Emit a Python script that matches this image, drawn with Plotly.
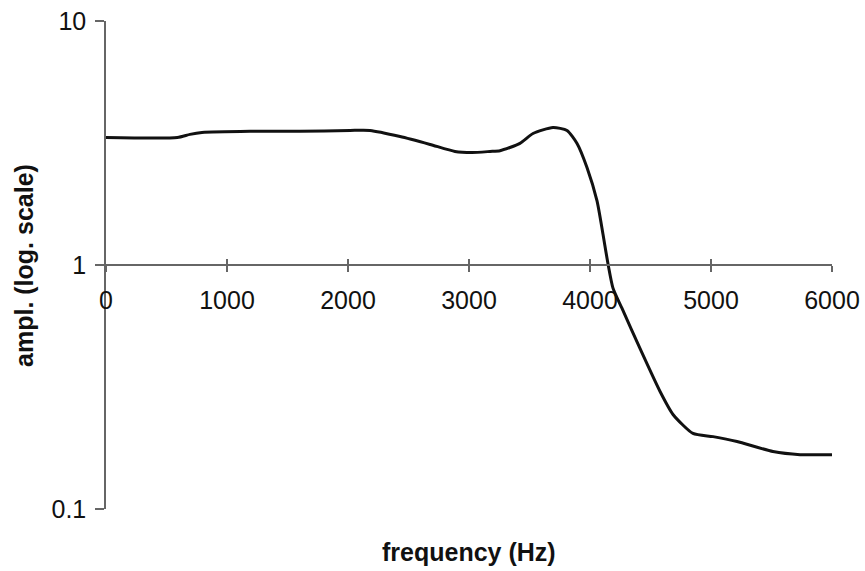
import plotly.graph_objects as go

freq = [0, 590, 694, 793, 1190, 1603, 2017, 2182, 2430, 2678, 2884, 3025, 3174, 3256,
        3421, 3529, 3694, 3810, 3893, 3975, 4058, 4107, 4149, 4190, 4264, 4413, 4579,
        4686, 4851, 5017, 5215, 5512, 5736, 6000]
ampl = [3.33, 3.33, 3.43, 3.49, 3.53, 3.53, 3.56, 3.56, 3.36, 3.12, 2.92, 2.89, 2.92, 2.94,
        3.15, 3.46, 3.66, 3.56, 3.15, 2.51, 1.83, 1.34, 1.01, 0.804, 0.665, 0.455, 0.303,
        0.244, 0.204, 0.198, 0.189, 0.172, 0.167, 0.167]

x_ticks = [0, 1000, 2000, 3000, 4000, 5000, 6000]
y_ticks = [0.1, 1, 10]
y_ticktext = ["0.1", "1", "10"]

axis_col = "#666666"
txt_col = "#111111"
font_tick = dict(family="Liberation Sans, Arial", size=25, color=txt_col)

fig = go.Figure()
fig.add_trace(go.Scatter(x=freq, y=ampl, mode="lines",
                         line=dict(color="#111111", width=3, shape="spline", smoothing=0.6),
                         showlegend=False, hoverinfo="skip"))
# invisible trace on overlay axes so they render
fig.add_trace(go.Scatter(x=[0], y=[1], xaxis="x2", yaxis="y2", mode="markers",
                         marker=dict(opacity=0), showlegend=False, hoverinfo="skip"))

fig.update_layout(
    width=865, height=571,
    margin=dict(l=106, r=33, t=21, b=62, autoexpand=False),
    paper_bgcolor="white", plot_bgcolor="white",
    xaxis=dict(range=[0, 6000], tickvals=x_ticks, anchor="free", position=0.5,
               showline=True, linecolor=axis_col, linewidth=1.5,
               ticks="outside", ticklen=6, tickwidth=1.5, tickcolor=axis_col,
               tickfont=font_tick, ticklabelstandoff=7, automargin=False,
               showgrid=False, zeroline=False),
    xaxis2=dict(range=[0, 6000], tickvals=x_ticks, overlaying="x", anchor="free", position=0.5,
                showline=False, ticks="inside", ticklen=6, tickwidth=1.5, tickcolor=axis_col,
                showticklabels=False, showgrid=False, zeroline=False, automargin=False),
    yaxis=dict(type="log", range=[-1, 1], tickvals=y_ticks, ticktext=y_ticktext,
               showline=True, linecolor=axis_col, linewidth=1.5,
               ticks="outside", ticklen=9, tickwidth=1.5, tickcolor=axis_col,
               tickfont=font_tick, ticklabelstandoff=4, automargin=False,
               showgrid=False, zeroline=False),
    yaxis2=dict(type="log", range=[-1, 1], tickvals=y_ticks, overlaying="y", side="left",
                anchor="x", showline=False, ticks="inside", ticklen=7, tickwidth=1.5,
                tickcolor=axis_col, showticklabels=False, showgrid=False, zeroline=False,
                automargin=False),
    annotations=[
        dict(text="<b>frequency (Hz)</b>", xref="paper", yref="paper", x=0.5, y=-0.089,
             xanchor="center", yanchor="middle", showarrow=False,
             font=dict(family="Liberation Sans, Arial", size=25, color=txt_col)),
        dict(text="<b>ampl. (log. scale)</b>", xref="paper", yref="paper", x=-0.113, y=0.5,
             xanchor="center", yanchor="middle", textangle=-90, showarrow=False,
             font=dict(family="Liberation Sans, Arial", size=25, color=txt_col)),
    ],
)

fig.write_html("out.html")
